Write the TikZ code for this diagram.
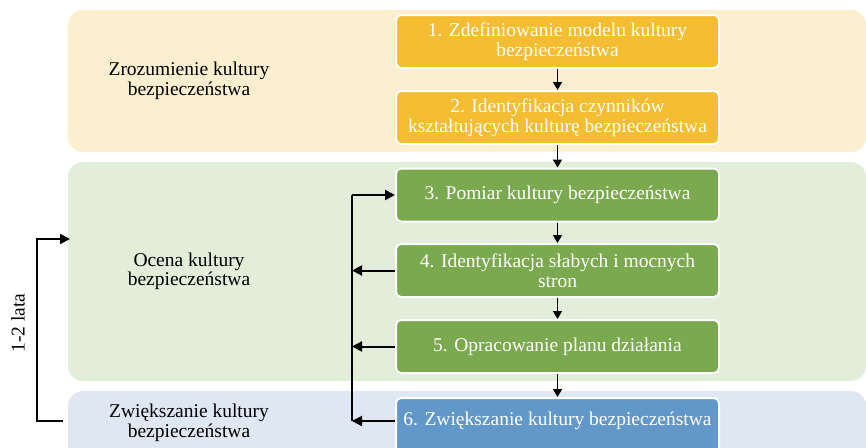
\documentclass[tikz,border=0pt]{standalone}
\usepackage{fontspec}
\setmainfont{Liberation Serif}
\usetikzlibrary{arrows.meta}

\definecolor{bandyellow}{HTML}{FCEFCF}
\definecolor{bandgreen}{HTML}{E2EDDA}
\definecolor{bandblue}{HTML}{DEE7F2}
\definecolor{boxyellow}{HTML}{F5BD31}
\definecolor{boxgreen}{HTML}{7BA950}
\definecolor{boxblue}{HTML}{6297CA}

\tikzset{
  stepbox/.style={draw=white, line width=2pt, rounded corners=5pt, text=white,
    minimum width=323pt, minimum height=53pt, align=center, inner sep=1pt,
    font=\fontsize{19.5}{19.5}\selectfont},
  phase/.style={align=center, font=\fontsize{19.5}{19.5}\selectfont},
  arr/.style={-{Triangle[length=8pt,width=9pt]}, line width=1.6pt},
  fbline/.style={line width=2pt},
  fbarr/.style={fbline, -{Triangle[length=10pt,width=10pt]}}
}

\begin{document}
\begin{tikzpicture}[x=1pt,y=-1pt]
\useasboundingbox (0,0) rectangle (866,447);
\clip (0,0) rectangle (866,447);

% Bands
\fill[bandyellow, rounded corners=15pt] (68,10) rectangle (866,152);
\fill[bandgreen, rounded corners=15pt] (68,162) rectangle (866,381);
\fill[bandblue, rounded corners=15pt] (68,391) rectangle (866,480);

% Phase labels
\node[phase] (zrozumienie) at (189,81) {Zrozumienie kultury\\bezpieczeństwa};
\node[phase] (ocena) at (189,271.5) {Ocena kultury\\bezpieczeństwa};
\node[phase] (zwiekszanie) at (189,423) {Zwiększanie kultury\\bezpieczeństwa};

% Steps
\node[stepbox, fill=boxyellow] (s1) at (557.5,41.5) {1. Zdefiniowanie modelu kultury\\bezpieczeństwa};
\node[stepbox, fill=boxyellow] (s2) at (557.5,117.5) {2. Identyfikacja czynników\\kształtujących kulturę bezpieczeństwa};
\node[stepbox, fill=boxgreen] (s3) at (557.5,195) {3. Pomiar kultury bezpieczeństwa};
\node[stepbox, fill=boxgreen] (s4) at (557.5,270.5) {4. Identyfikacja słabych i mocnych\\stron};
\node[stepbox, fill=boxgreen] (s5) at (557.5,346.5) {5. Opracowanie planu działania};
\draw[draw=white, line width=2pt, rounded corners=5pt, fill=boxblue] (396,398) rectangle (719,470);
\node[stepbox, draw=none, minimum height=46pt] (s6) at (557.5,421) {6. Zwiększanie kultury bezpieczeństwa};

% Flow
\draw[arr] (s1) -- (s2);
\draw[arr] (s2) -- (s3);
\draw[arr] (s3) -- (s4);
\draw[arr] (s4) -- (s5);
\draw[arr] (s5) -- (s6);

% Feedback loop
\coordinate (fb) at (352,0);
\draw[fbline] (s6.west -| fb) -- (s3.west -| fb);
\draw[fbarr] (s3.west -| fb) -- (s3.west);
\draw[fbarr] (s4.west) -- (s4.west -| fb);
\draw[fbarr] (s5.west) -- (s5.west -| fb);
\draw[fbarr] (s6.west) -- (s6.west -| fb);

% Cycle
\coordinate (cyclestart) at (63,421);
\coordinate (cycleend) at (70,239);
\draw[fbarr] (cyclestart) -- (37,421) |- (cycleend);
\node[phase, rotate=90] (lata) at (18,323) {1-2 lata};

\end{tikzpicture}
\end{document}
